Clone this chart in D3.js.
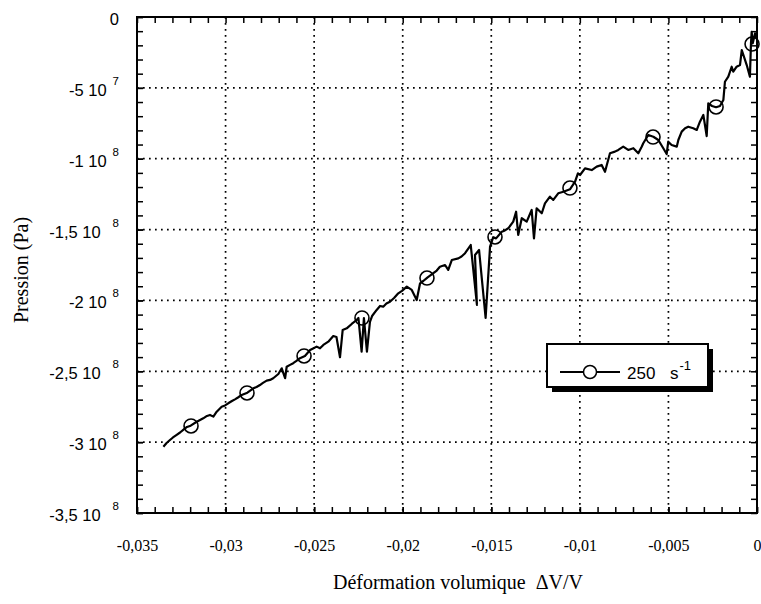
<!DOCTYPE html>
<html><head><meta charset="utf-8">
<script src="https://cdn.jsdelivr.net/npm/d3@7"></script>
<style>
html,body{margin:0;padding:0;background:#fff;}
svg{display:block;}
</style>
</head><body>
<svg id="chart" width="761" height="604"></svg>
<script>
// ---- data (strain ΔV/V, pressure in MPa) ----
const strain = [-0.03351,-0.03333,-0.03314,-0.03297,-0.03276,-0.03257,-0.03239,-0.03218,-0.03197,-0.03163,
-0.03144,-0.03126,-0.03105,-0.03088,-0.03069,-0.03050,-0.03022,-0.03003,-0.02985,-0.02964,
-0.02947,-0.02930,-0.02909,-0.02877,-0.02843,-0.02825,-0.02806,-0.02789,-0.02768,-0.02749,
-0.02731,-0.02702,-0.02683,-0.02664,-0.02655,-0.02636,-0.02618,-0.02600,-0.02580,-0.02552,
-0.02523,-0.02506,-0.02486,-0.02467,-0.02448,-0.02420,-0.02392,-0.02374,-0.02354,-0.02339,
-0.02316,-0.02288,-0.02260,-0.02250,-0.02232,-0.02219,-0.02202,-0.02185,-0.02173,-0.02147,
-0.02128,-0.02110,-0.02092,-0.02072,-0.02049,-0.02025,-0.02004,-0.01977,-0.01949,-0.01921,
-0.01902,-0.01884,-0.01861,-0.01827,-0.01808,-0.01790,-0.01761,-0.01743,-0.01723,-0.01686,
-0.01668,-0.01648,-0.01616,-0.01581,-0.01592,-0.01569,-0.01532,-0.01507,-0.01489,-0.01473,
-0.01441,-0.01423,-0.01404,-0.01376,-0.01360,-0.01348,-0.01328,-0.01300,-0.01272,-0.01259,
-0.01244,-0.01215,-0.01197,-0.01169,-0.01150,-0.01122,-0.01093,-0.01056,-0.01027,-0.01011,
-0.00999,-0.00971,-0.00933,-0.00905,-0.00877,-0.00858,-0.00830,-0.00802,-0.00783,-0.00755,
-0.00727,-0.00698,-0.00670,-0.00651,-0.00642,-0.00614,-0.00585,-0.00557,-0.00529,-0.00510,
-0.00501,-0.00482,-0.00453,-0.00444,-0.00425,-0.00406,-0.00388,-0.00360,-0.00340,-0.00322,
-0.00303,-0.00284,-0.00275,-0.00254,-0.00231,-0.00209,-0.00190,-0.00181,-0.00162,-0.00143,
-0.00134,-0.00115,-0.00096,-0.00086,-0.00058,-0.00040,-0.00034,-0.00030,-0.00024,-0.00011,-0.00002];
const pressure = [-303.2,-300.6,-298.5,-296.7,-294.9,-293.2,-291.4,-289.3,-288.4,-285.6,
-284.4,-283.2,-281.5,-280.8,-282.0,-278.5,-275.0,-274.1,-272.6,-271.0,
-269.8,-268.5,-266.7,-265.1,-262.0,-261.1,-259.7,-258.2,-256.6,-256.1,
-254.9,-251.9,-247.9,-254.9,-246.8,-245.5,-244.3,-242.7,-240.8,-239.2,
-235.0,-233.9,-232.6,-233.8,-231.4,-229.1,-225.1,-225.8,-240.1,-220.9,
-219.7,-216.6,-213.8,-212.4,-236.2,-212.4,-236.2,-215.2,-211.0,-206.7,
-203.9,-204.4,-202.2,-200.9,-198.3,-195.0,-193.3,-190.3,-192.6,-199.7,
-187.9,-186.3,-183.9,-180.8,-178.9,-176.2,-175.0,-178.5,-171.5,-170.3,
-169.0,-166.7,-160.9,-203.2,-167.9,-164.4,-212.4,-162.1,-155.4,-156.2,
-151.5,-150.6,-149.1,-144.4,-137.4,-153.8,-142.0,-144.4,-136.2,-156.2,
-135.0,-138.5,-131.5,-126.8,-129.1,-124.4,-123.3,-121.6,-116.2,-110.3,
-111.5,-106.8,-108.0,-105.6,-104.4,-109.2,-96.2,-95.0,-93.8,-91.5,
-93.8,-92.6,-96.2,-91.5,-89.1,-83.3,-84.5,-86.8,-92.6,-96.7,
-88.0,-90.3,-91.5,-86.8,-80.9,-78.5,-77.4,-78.5,-79.7,-73.9,
-69.1,-84.0,-60.9,-62.8,-63.7,-62.8,-58.6,-45.7,-42.1,-35.1,
-38.6,-35.1,-33.9,-23.3,-33.9,-42.1,-18.6,-10.4,-18.6,-11.5,-15.0];
const markerStrain = [-0.03195,-0.02879,-0.02557,-0.02230,-0.01863,-0.01479,-0.01056,-0.00587,-0.00231,-0.00028];
const markerPressure = [-288.6,-265.3,-239.2,-212.4,-184.2,-155.2,-120.7,-84.7,-63.5,-19.1];

const xTickValues = [-0.035,-0.03,-0.025,-0.02,-0.015,-0.01,-0.005,0];
const xTickLabels = ["-0,035","-0,03","-0,025","-0,02","-0,015","-0,01","-0,005","0"];
const yTickValues = [0,-50,-100,-150,-200,-250,-300,-350];
const yTickMantissa = ["0","-5","-1","-1,5","-2","-2,5","-3","-3,5"];
const yTickExponent = ["","7","8","8","8","8","8","8"];
const legendLabel = "250";
const legendUnit = "s";
const legendUnitExp = "-1";
const xTitle = "Déformation volumique  ΔV/V";
const yTitle = "Pression (Pa)";

// ---- layout ----
const L = 137, R = 757, T = 17, B = 513;
const SERIF = "'Liberation Serif','Times New Roman',serif";
const SANS = "'Liberation Sans',Arial,sans-serif";
const svg = d3.select("#chart");
const x = d3.scaleLinear().domain([-0.035, 0]).range([L, R]);
const y = d3.scaleLinear().domain([0, -350]).range([T, B]);

// grid
const grid = svg.append("g").attr("stroke","#000").attr("stroke-width",1.7).attr("stroke-dasharray","1.7,4.3");
grid.selectAll("line.gx").data(xTickValues.slice(1,-1)).join("line").attr("class","gx")
  .attr("x1",d=>x(d)).attr("x2",d=>x(d)).attr("y1",T).attr("y2",B);
grid.selectAll("line.gy").data(yTickValues.slice(1,-1)).join("line").attr("class","gy")
  .attr("y1",d=>y(d)).attr("y2",d=>y(d)).attr("x1",L).attr("x2",R);

// minor ticks (every 0.001 and every 10 MPa)
const xMinor = d3.range(-35, 1).map(i => i/1000);
const yMinor = d3.range(0, 36).map(i => -i*10);
function styleAxis(g){ g.select(".domain").remove(); g.selectAll(".tick line").attr("stroke","#000").attr("stroke-width",1.5); }
svg.append("g").attr("transform",`translate(0,${B})`).call(d3.axisBottom(x).tickValues(xMinor).tickSize(-6).tickFormat("")).call(styleAxis);
svg.append("g").attr("transform",`translate(0,${T})`).call(d3.axisTop(x).tickValues(xMinor).tickSize(-6).tickFormat("")).call(styleAxis);
svg.append("g").attr("transform",`translate(${L},0)`).call(d3.axisLeft(y).tickValues(yMinor).tickSize(-6).tickFormat("")).call(styleAxis);
svg.append("g").attr("transform",`translate(${R},0)`).call(d3.axisRight(y).tickValues(yMinor).tickSize(-6).tickFormat("")).call(styleAxis);

// labelled axes
const xAxisG = svg.append("g").attr("transform",`translate(0,${B})`)
  .call(d3.axisBottom(x).tickValues(xTickValues).tickSize(-6).tickPadding(38).tickFormat((d,i)=>xTickLabels[i]))
  .call(styleAxis);
xAxisG.attr("font-family", SERIF).attr("font-size", 16);
xAxisG.selectAll(".tick text").attr("font-family", SERIF).attr("font-size",16).attr("fill","#000").attr("dy","0");

const yAxisG = svg.append("g").attr("transform",`translate(${L},0)`)
  .call(d3.axisLeft(y).tickValues(yTickValues).tickSize(-6).tickPadding(18).tickFormat(""))
  .call(styleAxis);
yAxisG.attr("font-family", SANS).attr("font-size", 16.5);
yAxisG.selectAll(".tick text").each(function(d,i){
  const t = d3.select(this).attr("font-family",SANS).attr("font-size",16.5)
    .attr("fill","#000").attr("dy","0.45em").attr("text-anchor","end");
  if (yTickExponent[i] === "") { t.text(yTickMantissa[i]); }
  else {
    t.append("tspan").text(yTickMantissa[i] + " 10");
    t.append("tspan").attr("dx", yTickMantissa[i].includes(",") ? 12 : 6).attr("dy",-11).attr("font-size",11.5).text(yTickExponent[i]);
  }
});

// frame
svg.append("rect").attr("x",L).attr("y",T).attr("width",R-L).attr("height",B-T)
  .attr("fill","none").attr("stroke","#000").attr("stroke-width",2);

// data line
const pts = strain.map((s,i)=>[s, pressure[i]]);
svg.append("path").datum(pts)
  .attr("d", d3.line().x(d=>x(d[0])).y(d=>y(d[1])))
  .attr("fill","none").attr("stroke","#000").attr("stroke-width",2.2).attr("stroke-linejoin","round");

// markers
svg.append("g").selectAll("circle").data(markerStrain.map((s,i)=>[s, markerPressure[i]])).join("circle")
  .attr("cx",d=>x(d[0])).attr("cy",d=>y(d[1])).attr("r",7)
  .attr("fill","none").attr("stroke","#000").attr("stroke-width",1.6);

// titles
svg.append("text").attr("x",458).attr("y",589).attr("text-anchor","middle")
  .attr("font-family",SERIF).attr("font-size",20).attr("fill","#000")
  .attr("xml:space","preserve").style("white-space","pre").text(xTitle);
svg.append("text").attr("transform","translate(28,270) rotate(-90)").attr("text-anchor","middle")
  .attr("font-family",SERIF).attr("font-size",20).attr("fill","#000").text(yTitle);

// legend
const lg = svg.append("g");
lg.append("rect").attr("x",552).attr("y",349).attr("width",161).attr("height",43).attr("fill","#000");
lg.append("rect").attr("x",547).attr("y",344).attr("width",161).attr("height",43).attr("fill","#fff").attr("stroke","#000").attr("stroke-width",2);
lg.append("line").attr("x1",560).attr("x2",620).attr("y1",372).attr("y2",372).attr("stroke","#000").attr("stroke-width",2);
lg.append("circle").attr("cx",590).attr("cy",372).attr("r",6.5).attr("fill","#fff").attr("stroke","#000").attr("stroke-width",1.5);
const lt = lg.append("text").attr("x",627).attr("y",379).attr("font-family",SANS).attr("font-size",17).attr("fill","#000");
lt.append("tspan").text(legendLabel);
lt.append("tspan").attr("x",670).text(legendUnit);
lt.append("tspan").attr("dx",1).attr("dy",-9).attr("font-size",13).text(legendUnitExp);
</script>
</body></html>
